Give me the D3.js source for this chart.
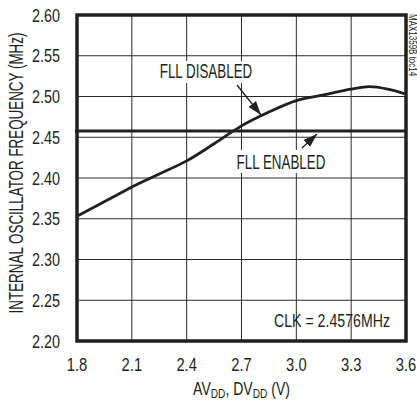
<!DOCTYPE html>
<html>
<head>
<style>
  body { margin: 0; background: #fff; }
  text { font-family: "Liberation Sans", Arial, sans-serif; fill: #231f20; }
</style>
</head>
<body>
<svg width="417" height="406"></svg>
<script src="https://d3js.org/d3.v7.min.js"></script>
<script>
  const xTicks = [1.8, 2.1, 2.4, 2.7, 3.0, 3.3, 3.6];
  const yTicks = [2.20, 2.25, 2.30, 2.35, 2.40, 2.45, 2.50, 2.55, 2.60];
  const supply = [1.8, 2.0, 2.1, 2.25, 2.4, 2.55, 2.7, 2.85, 3.0, 3.15, 3.3, 3.4, 3.5, 3.6];
  const fllDisabled = [2.353, 2.377, 2.389, 2.405, 2.421, 2.442, 2.464, 2.481, 2.495, 2.502, 2.509, 2.512, 2.509, 2.503];
  const fllEnabled = 2.4576;

  const svg = d3.select("svg");
  const mLeft = 77, mRight = 406, mTop = 15, mBottom = 341;
  const ink = "#231f20";

  const x = d3.scaleLinear().domain([1.8, 3.6]).range([mLeft, mRight]);
  const y = d3.scaleLinear().domain([2.2, 2.6]).range([mBottom, mTop]);

  // narrow text: the original uses a condensed face, so squeeze Liberation Sans
  function label(px, py, str, size, sx, anchor, rot) {
    return svg.append("text")
      .attr("transform", "translate(" + px + "," + py + ")" + (rot ? " rotate(" + rot + ")" : "") + " scale(" + sx + ",1)")
      .attr("text-anchor", anchor || "start")
      .attr("font-size", size)
      .text(str);
  }

  // grid
  svg.append("g").selectAll("line").data(xTicks.slice(1, -1)).enter().append("line")
    .attr("x1", d => x(d)).attr("x2", d => x(d)).attr("y1", mTop).attr("y2", mBottom)
    .attr("stroke", "#2a2a2a").attr("stroke-width", 1);
  svg.append("g").selectAll("line").data(yTicks.slice(1, -1)).enter().append("line")
    .attr("x1", mLeft).attr("x2", mRight).attr("y1", d => y(d)).attr("y2", d => y(d))
    .attr("stroke", "#2a2a2a").attr("stroke-width", 1);

  // tick labels
  yTicks.forEach(d => label(60, y(d) + 6.5, d.toFixed(2), 18, 0.8, "end"));
  xTicks.forEach(d => label(x(d), 371, d.toFixed(1), 18, 0.82, "middle"));

  // FLL enabled line
  svg.append("line")
    .attr("x1", 75).attr("x2", mRight).attr("y1", y(fllEnabled)).attr("y2", y(fllEnabled))
    .attr("stroke", ink).attr("stroke-width", 3);

  // FLL disabled curve
  const line = d3.line().x((d, i) => x(supply[i])).y(d => y(d)).curve(d3.curveMonotoneX);
  svg.append("path").datum(fllDisabled).attr("d", line)
    .attr("fill", "none").attr("stroke", ink).attr("stroke-width", 2.8);

  // frame
  svg.append("rect").attr("x", mLeft).attr("y", mTop).attr("width", mRight - mLeft).attr("height", mBottom - mTop)
    .attr("fill", "none").attr("stroke", ink).attr("stroke-width", 3.5);

  // annotations
  svg.append("defs").append("marker").attr("id", "ah")
    .attr("viewBox", "0 0 10 10").attr("refX", 10).attr("refY", 5)
    .attr("markerWidth", 14).attr("markerHeight", 14).attr("markerUnits", "userSpaceOnUse")
    .attr("orient", "auto")
    .append("path").attr("d", "M0,1.6 L10,5 L0,8.4 Z").attr("fill", ink);

  svg.append("rect").attr("x", 157).attr("y", 61).attr("width", 99).attr("height", 22).attr("fill", "#fff");
  label(206, 78, "FLL DISABLED", 20, 0.67, "middle");
  svg.append("line").attr("x1", 237).attr("y1", 85).attr("x2", 261).attr("y2", 115)
    .attr("stroke", ink).attr("stroke-width", 1.3).attr("marker-end", "url(#ah)");

  svg.append("rect").attr("x", 234).attr("y", 150).attr("width", 95).attr("height", 23).attr("fill", "#fff");
  label(281, 169, "FLL ENABLED", 20, 0.67, "middle");
  svg.append("line").attr("x1", 302).attr("y1", 148).attr("x2", 317).attr("y2", 134)
    .attr("stroke", ink).attr("stroke-width", 1.3).attr("marker-end", "url(#ah)");

  label(390, 327, "CLK = 2.4576MHz", 19, 0.745, "end");

  // axis titles
  label(23, 173, "INTERNAL OSCILLATOR FREQUENCY (MHz)", 20, 0.67, "middle", -90);

  const xt = svg.append("text")
    .attr("transform", "translate(241.5,395) scale(0.78,1)")
    .attr("text-anchor", "middle").attr("font-size", 18);
  xt.append("tspan").text("AV");
  xt.append("tspan").attr("font-size", 13).attr("dy", 3).text("DD");
  xt.append("tspan").attr("dy", -3).text(", DV");
  xt.append("tspan").attr("font-size", 13).attr("dy", 3).text("DD");
  xt.append("tspan").attr("dy", -3).text(" (V)");

  label(409, 14, "MAX1359B toc14", 10, 0.8, "start", 90).attr("fill", "#444");
</script>
</body>
</html>
